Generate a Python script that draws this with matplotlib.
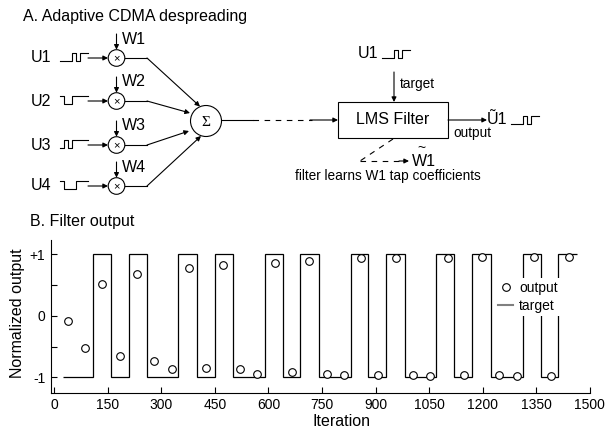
import numpy as np
import matplotlib.pyplot as plt
from matplotlib.patches import Circle, Rectangle
from matplotlib.lines import Line2D

plt.rcParams['font.family'] = ['Liberation Sans', 'DejaVu Sans']

# filter output samples (iteration, normalized output)
out_iter = [38, 87, 135, 183, 232, 280, 329, 377, 425, 474, 520, 569, 619, 667, 715,
            764, 811, 859, 908, 956, 1006, 1053, 1103, 1149, 1199, 1247, 1295, 1343, 1392, 1441]
out_val = [-0.08, -0.52, 0.52, -0.66, 0.67, -0.74, -0.86, 0.77, -0.85, 0.82, -0.86, -0.95, 0.85, -0.91, 0.89,
           -0.95, -0.97, 0.93, -0.97, 0.935, -0.97, -0.98, 0.935, -0.97, 0.95, -0.97, -0.98, 0.95, -0.98, 0.95]

# target square wave: edges and level of each segment
target_edges = [25, 108, 160, 208, 260, 348, 399, 449, 502, 589, 640, 689, 742,
                831, 880, 930, 983, 1069, 1121, 1170, 1224, 1312, 1363, 1410, 1464]
target_levels = [-1, 1] * 12

x_ticks = [0, 150, 300, 450, 600, 750, 900, 1050, 1200, 1350, 1500]
y_ticks = [-1, -0.5, 0, 0.5, 1]
y_labels = ['-1', '', '0', '', '+1']

# little code glyphs for the diagram
codes = {'U1': [0, 0, 0, 1, 0, 1, 1], 'U2': [1, 0, 0, 1, 1, 1, 1],
         'U3': [0, 1, 0, 1, 1, 1, 1], 'U4': [1, 0, 0, 0, 1, 1, 1]}

fig = plt.figure(figsize=(6.05, 4.32), dpi=100)

# ---- panel A: diagram drawn in pixel coordinates ----
d = fig.add_axes([0, 0, 1, 1])
d.set_xlim(0, 605)
d.set_ylim(432, 0)
d.axis('off')
d.patch.set_alpha(0)

LW = 0.8
arrow = dict(arrowstyle='-|>', mutation_scale=7, lw=LW, color='k', shrinkA=0, shrinkB=0)


def glyph(x0, y, bits, unit=4.0, hi=5.5, lo=2.5):
    xs, ys = [], []
    for i, b in enumerate(bits):
        lev = y - hi if b else y + lo
        xs += [x0 + i * unit, x0 + (i + 1) * unit]
        ys += [lev, lev]
    d.plot(xs, ys, color='k', lw=LW)
    return x0 + len(bits) * unit


d.text(23, 17, 'A. Adaptive CDMA despreading', fontsize=11.5, va='center')

rows = [58, 101, 145, 186]
sig_c = (206, 121)
sig_r = 15.5
ends = [(200, 106.5), (190, 113), (189, 131), (201, 136)]
for k, (name, y) in enumerate(zip(['U1', 'U2', 'U3', 'U4'], rows)):
    d.text(31, y, name, fontsize=11.5, va='center')
    glyph(60, y, codes[name])
    d.annotate('', xy=(108, y), xytext=(88, y), arrowprops=arrow)
    d.add_patch(Circle((116.5, y), 8.3, fill=False, lw=LW, ec='k'))
    d.text(116.5, y, '×', fontsize=8, ha='center', va='center')
    d.annotate('', xy=(116.5, y - 8.3), xytext=(116.5, y - 24), arrowprops=arrow)
    d.text(122, y - 19, 'W%d' % (k + 1), fontsize=11.5, va='center')
    d.plot([124.8, 147], [y, y], color='k', lw=LW)
    d.annotate('', xy=ends[k], xytext=(147, y), arrowprops=arrow)

d.add_patch(Circle(sig_c, sig_r, fill=False, lw=LW, ec='k'))
d.text(sig_c[0], sig_c[1] + 1, 'Σ', family='Liberation Serif', fontsize=11,
       ha='center', va='center')
d.plot([221.5, 253], [120, 120], color='k', lw=LW)
d.plot([253, 312], [120, 120], color='k', lw=LW, ls=(0, (5, 5)))
d.annotate('', xy=(338, 120), xytext=(310, 120), arrowprops=arrow)

d.add_patch(Rectangle((338, 102), 110, 36, fill=False, lw=LW, ec='k'))
d.text(393, 120, 'LMS Filter', fontsize=11.5, ha='center', va='center')

d.text(358, 54, 'U1', fontsize=11.5, va='center')
glyph(382, 55, codes['U1'])
d.annotate('', xy=(394, 102), xytext=(394, 72), arrowprops=arrow)
d.text(400, 84, 'target', fontsize=9.8, va='center')

d.annotate('', xy=(487, 120), xytext=(448, 120), arrowprops=arrow)
d.text(487, 119, 'Ũ1', fontsize=11.5, va='center')
glyph(511, 121, codes['U1'])
d.text(453, 133, 'output', fontsize=9.8, va='center')

d.plot([393, 360], [139, 161], color='k', lw=LW, ls=(0, (5, 5)))
d.plot([360, 400], [161, 161], color='k', lw=LW, ls=(0, (5, 5)))
d.annotate('', xy=(409, 161), xytext=(399, 161), arrowprops=arrow)
d.text(412, 161, 'W1', fontsize=11.5, va='center')
d.text(421, 148, '~', fontsize=10, ha='center', va='center')
d.text(295, 176, 'filter learns W1 tap coefficients', fontsize=9.8, va='center')

# ---- panel B: filter output ----
ax = fig.add_axes([50.7 / 605, 39.3 / 432, 539 / 605, 152.7 / 432])
ax.stairs(target_levels, target_edges, baseline=None, color='k', lw=0.9, zorder=2)
ax.plot(out_iter, out_val, 'o', ms=5.5, mfc='white', mec='k', mew=0.8, zorder=3)

ax.set_xlim(-10, 1500)
ax.set_ylim(-1.25, 1.23)
ax.set_xticks(x_ticks)
ax.set_yticks(y_ticks)
ax.set_yticklabels(y_labels)
ax.tick_params(direction='in', length=4, width=0.8, labelsize=10)
ax.tick_params(axis='x', pad=3.5)
ax.tick_params(axis='y', pad=4)
for s in ['top', 'right']:
    ax.spines[s].set_visible(False)
for s in ['left', 'bottom']:
    ax.spines[s].set_linewidth(0.8)

handles = [Line2D([], [], ls='none', marker='o', ms=5.5, mfc='white', mec='k', mew=0.8),
           Line2D([], [], color='gray', lw=1.5)]
leg = ax.legend(handles, ['output', 'target'], loc='upper left', bbox_to_anchor=(0.825, 0.75),
                frameon=True, fancybox=False, edgecolor='none', facecolor='white', framealpha=1,
                fontsize=10, handlelength=1.1, handletextpad=0.4, labelspacing=0.3,
                borderpad=0.2, borderaxespad=0)

fig.text(30 / 605, 1 - 222 / 432, 'B. Filter output', fontsize=11.5, va='center')
fig.text(18 / 605, 1 - 313 / 432, 'Normalized output', fontsize=11.5, rotation=90,
         ha='center', va='center')
fig.text(341 / 605, 1 - 422 / 432, 'Iteration', fontsize=11.5, ha='center', va='center')

fig.savefig('out.png', dpi=100)
